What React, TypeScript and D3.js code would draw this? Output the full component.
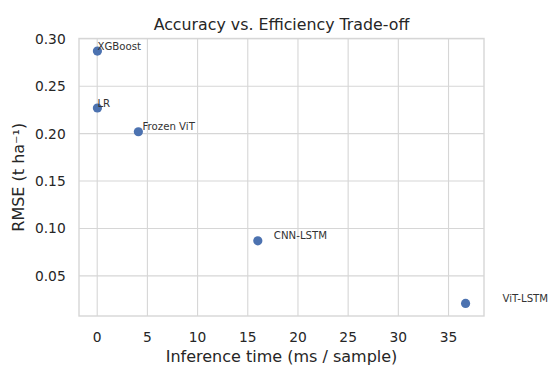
import React from "react";
import * as d3 from "d3";

const models = ["XGBoost", "LR", "Frozen ViT", "CNN-LSTM", "ViT-LSTM"];
const inferenceMs = [0.02, 0.02, 4.1, 16.0, 36.7];
const rmse = [0.287, 0.227, 0.202, 0.087, 0.021];
const xTicks = [0, 5, 10, 15, 20, 25, 30, 35];
const yTicks = [0.05, 0.1, 0.15, 0.2, 0.25, 0.3];

const W = 551;
const H = 365;
const M = { left: 79, right: 484, top: 38.5, bottom: 316 };
const FONT = "'DejaVu Sans', sans-serif";
const TXT = "#262626";
const GRID = "#d6d6d6";

export default function App() {
  const [xmin, xmax] = d3.extent(inferenceMs) as [number, number];
  const [ymin, ymax] = d3.extent(rmse) as [number, number];
  const xm = (xmax - xmin) * 0.05;
  const ym = (ymax - ymin) * 0.05;
  const x = d3.scaleLinear().domain([xmin - xm, xmax + xm]).range([M.left, M.right]);
  const y = d3.scaleLinear().domain([ymin - ym, ymax + ym]).range([M.bottom, M.top]);

  return (
    <svg width={W} height={H} style={{ position: "absolute", left: 0, top: 0, background: "#fff" }}>
      <rect x={0} y={0} width={W} height={H} fill="#fff" />
      {xTicks.map((t) => (
        <line key={"gx" + t} x1={x(t)} x2={x(t)} y1={M.top} y2={M.bottom} stroke={GRID} strokeWidth={1.1} />
      ))}
      {yTicks.map((t) => (
        <line key={"gy" + t} x1={M.left} x2={M.right} y1={y(t)} y2={y(t)} stroke={GRID} strokeWidth={1.1} />
      ))}
      <rect x={M.left} y={M.top} width={M.right - M.left} height={M.bottom - M.top} fill="none" stroke={GRID} strokeWidth={1.4} />
      {xTicks.map((t) => (
        <text key={"tx" + t} x={x(t)} y={341.5} textAnchor="middle" fontFamily={FONT} fontSize={13.8} fill={TXT}>
          {t}
        </text>
      ))}
      {yTicks.map((t) => (
        <text key={"ty" + t} x={65.7} y={y(t)} dy="0.36em" textAnchor="end" fontFamily={FONT} fontSize={13.8} fill={TXT}>
          {d3.format(".2f")(t)}
        </text>
      ))}
      {models.map((m, i) => (
        <circle key={"p" + m} cx={x(inferenceMs[i])} cy={y(rmse[i])} r={4.6} fill="#4C72B0" />
      ))}
      {models.map((m, i) => (
        <text key={"l" + m} x={x(inferenceMs[i] * 1.1)} y={y(rmse[i]) - 1.5} fontFamily={FONT} fontSize={10.2} fill="#333">
          {m}
        </text>
      ))}
      <text x={(M.left + M.right) / 2} y={30} textAnchor="middle" fontFamily={FONT} fontSize={15.8} fill={TXT}>
        Accuracy vs. Efficiency Trade-off
      </text>
      <text x={(M.left + M.right) / 2} y={361.5} textAnchor="middle" fontFamily={FONT} fontSize={16} fill={TXT}>
        Inference time (ms / sample)
      </text>
      <text
        transform={`translate(23.5,${(M.top + M.bottom) / 2}) rotate(-90)`}
        textAnchor="middle"
        fontFamily={FONT}
        fontSize={16}
        fill={TXT}
      >
        RMSE (t ha⁻¹)
      </text>
    </svg>
  );
}
